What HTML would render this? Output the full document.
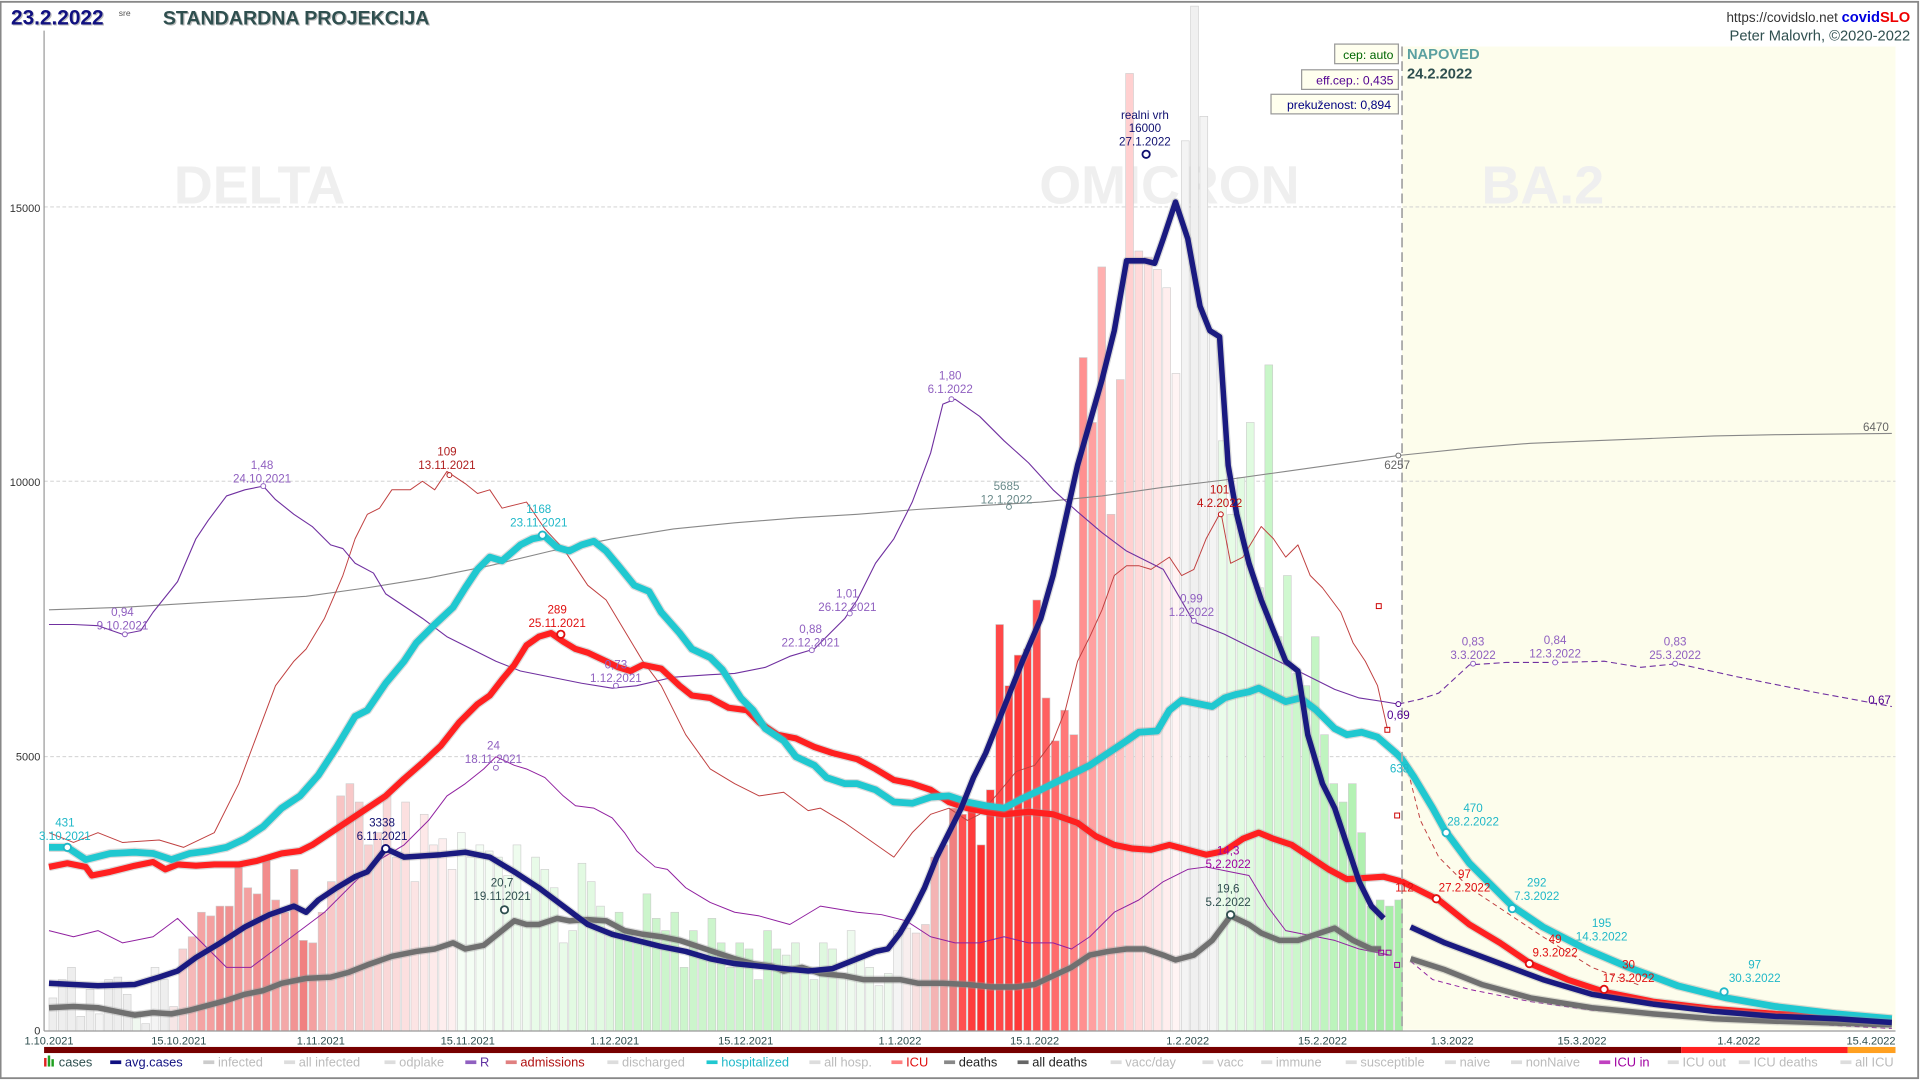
<!DOCTYPE html>
<html><head><meta charset="utf-8"><style>
html,body{margin:0;padding:0;background:#fff;}
svg{display:block;font-family:"Liberation Sans",sans-serif;}
</style></head><body>
<svg id="s" width="1920" height="1080" viewBox="0 0 1568 882" xmlns="http://www.w3.org/2000/svg">
<rect x="0" y="0" width="1568" height="882" fill="#fff"/>
<rect x="0.5" y="1.5" width="1566" height="879" fill="none" stroke="#888" stroke-width="1.5"/>
<rect x="1145" y="38" width="403" height="803" fill="#fdfdec"/>
<g stroke="#ccc" stroke-dasharray="3,2" stroke-width="0.7">
<line x1="36" y1="169" x2="1548" y2="169"/><line x1="36" y1="393" x2="1548" y2="393"/><line x1="36" y1="618" x2="1548" y2="618"/>
</g>
<g font-weight="bold" font-size="44" fill="#efefef" text-anchor="middle">
<text x="212" y="166">DELTA</text><text x="955" y="166">OMICRON</text><text x="1260" y="166">BA.2</text>
</g>
<g id="bars"></g>
<g id="lines"></g>
<line x1="1145" y1="38" x2="1145" y2="842" stroke="#aaa" stroke-width="1.5" stroke-dasharray="8,4"/>
<line x1="36" y1="25" x2="36" y2="842" stroke="#999"/>
<line x1="36" y1="842" x2="1548" y2="842" stroke="#999"/>
<g font-size="9" fill="#333" text-anchor="end">
<text x="33" y="173">15000</text><text x="33" y="397">10000</text><text x="33" y="621">5000</text><text x="33" y="845">0</text>
</g>
<g font-size="9" fill="#2f4f4f" text-anchor="middle">
<text x="40" y="853">1.10.2021</text><text x="146" y="853">15.10.2021</text><text x="262" y="853">1.11.2021</text><text x="382" y="853">15.11.2021</text><text x="502" y="853">1.12.2021</text><text x="609" y="853">15.12.2021</text><text x="735" y="853">1.1.2022</text><text x="845" y="853">15.1.2022</text><text x="970" y="853">1.2.2022</text><text x="1080" y="853">15.2.2022</text><text x="1186" y="853">1.3.2022</text><text x="1292" y="853">15.3.2022</text><text x="1420" y="853">1.4.2022</text><text x="1528" y="853">15.4.2022</text>
</g>
<rect x="36" y="855" width="1337" height="5" fill="#700"/>
<rect x="1373" y="855" width="136" height="5" fill="#ff2020"/>
<rect x="1509" y="855" width="39" height="5" fill="#ffa020"/>
<g id="legend" font-size="10.5"></g>
<text x="10" y="21" font-size="17" font-weight="bold" fill="#bbb">23.2.2022</text>
<text x="9" y="20" font-size="17" font-weight="bold" fill="#101080">23.2.2022</text>
<text x="97" y="13" font-size="7" fill="#555">sre</text>
<text x="134" y="21" font-size="16" font-weight="bold" fill="#bbb">STANDARDNA PROJEKCIJA</text>
<text x="133" y="20" font-size="16" font-weight="bold" fill="#2f4f4f">STANDARDNA PROJEKCIJA</text>
<text x="1560" y="18" font-size="11" text-anchor="end" fill="#333">https://covidslo.net <tspan font-weight="bold" fill="#0000e0" font-size="12">covid</tspan><tspan font-weight="bold" fill="#e00" font-size="12">SLO</tspan></text>
<text x="1560" y="33" font-size="12" text-anchor="end" fill="#2f4f4f">Peter Malovrh, ©2020-2022</text>
<g font-size="10" text-anchor="end">
<rect x="1090" y="36" width="52" height="16" fill="#ffffee" stroke="#999"/><text x="1138" y="48" fill="#060">cep: auto</text>
<rect x="1063" y="57" width="79" height="16" fill="#ffffee" stroke="#999"/><text x="1138" y="69" fill="#500090">eff.cep.: 0,435</text>
<rect x="1038" y="77" width="104" height="16" fill="#ffffee" stroke="#999"/><text x="1136" y="89" fill="#000080">prekuženost: 0,894</text>
</g>
<text x="1149" y="48" font-size="12" font-weight="bold" fill="#5aa0a0">NAPOVED</text>
<text x="1149" y="64" font-size="12" font-weight="bold" fill="#2f4f4f">24.2.2022</text>
<g id="ann" font-size="9.5" text-anchor="middle"></g>
</svg>
<script>
var NS="http://www.w3.org/2000/svg";
function el(p,t,a,txt){var e=document.createElementNS(NS,t);for(var k in a)e.setAttribute(k,a[k]);if(txt!=null)e.textContent=txt;p.appendChild(e);return e;}
var bars=document.getElementById('bars');
var B=[
[815,'#eee'],[800,'#eee'],[790,'#eee'],[830,'#eee'],[808,'#eee'],[828,'#f4f4f4'],[800,'#eee'],[798,'#eee'],[812,'#eee'],[826,'#f0f8f0'],[836,'#eee'],[790,'#f4f4f4'],[800,'#eee'],[822,'#f6e6e6'],
[775,'#f8d0d0'],[765,'#f6b8b8'],[745,'#f4a4a4'],[748,'#f4a0a0'],[740,'#f29090'],[740,'#f09090'],[705,'#f29898'],[725,'#f4a0a0'],[730,'#f29090'],[700,'#f28c8c'],[735,'#f4a0a0'],[745,'#f4a8a8'],[710,'#f29494'],[768,'#f08080'],[770,'#f4a0a0'],[745,'#f6b8b8'],[720,'#f8c8c8'],
[650,'#f8c4c4'],[640,'#f8c8c8'],[655,'#f8cccc'],[690,'#f8d0d0'],[680,'#fad4d4'],[650,'#fad8d8'],[700,'#fcdcdc'],[655,'#fce0e0'],[720,'#fce4e4'],[665,'#fde8e8'],[690,'#fdeaea'],[685,'#fdeeee'],[710,'#fdf0f0']
];
var g1=[680,700,690,695,700,715,690,730,700,710,725,770,760,705,720,740,760];
g1.forEach(function(v,i){var c=['#f4fdf4','#eefcee','#e8fbe8','#e2fae2','#dcf8dc'][Math.min(4,Math.floor(i/4))];B.push([v,c]);});
var g2=[745,760,770,730,750,760,745,790,760,780,750,770,790,770,775,800,760,775,780,770,790,800,770,775,795,760,780,790,805,795];
g2.forEach(function(v,i){var c=i<18?'#ccf5cc':(i<24?'#dff8df':'#eefaee');B.push([v,c]);});
[[760,'#f4f4f4'],[758,'#f8eeee'],[762,'#f8e0e0'],[755,'#f6d0d0'],[700,'#f4b4b4'],[690,'#f4a0a0'],[660,'#f08080'],
[665,'#ff5050'],[660,'#ff3c3c'],[690,'#ff3030'],[645,'#ff3a3a'],[510,'#ff4848'],[560,'#ff4040'],[535,'#ff3838'],[530,'#ff4444'],[490,'#ff5050'],[570,'#ff6060'],[605,'#ff6c6c'],[580,'#ff7878'],[600,'#ff8080'],[292,'#ff9090'],
[345,'#ffa0a0'],[218,'#ffb0b0'],[420,'#ffb8b8'],[310,'#ffc0c0'],[60,'#ffd0d0'],[205,'#ffdada'],[210,'#ffe0e0'],[220,'#ffe6e6'],[235,'#ffeeee'],
[305,'#fff4f4'],[115,'#f4f4f4'],[5,'#f0f0f0'],[95,'#f4f4f4'],[270,'#f4f4f4'],[360,'#eafcea'],[420,'#e6fce6'],[390,'#e2fbe2'],[345,'#e0fbe0'],[480,'#dcfadc'],[298,'#c8f6c8'],[520,'#d4f8d4'],[470,'#d0f8d0'],[550,'#ccf6cc'],[560,'#c8f6c8'],[520,'#c4f5c4'],[600,'#c0f4c0'],[640,'#bcf4bc'],[655,'#b8f2b8'],[640,'#b4f2b4'],[680,'#b0f0b0'],[740,'#acf0ac'],[735,'#a8eea8'],[740,'#a8eea8'],[735,'#a8eea8']
].forEach(function(b){B.push(b);});
B.forEach(function(b,i){var x=40+7.58*i;el(bars,'rect',{x:x,y:b[0],width:6.4,height:842-b[0],fill:b[1],stroke:'#ccc','stroke-width':0.5});});
var L=document.getElementById('lines');
function line(pts,col,w,dash,op){var a={points:pts,fill:'none',stroke:col,'stroke-width':w,'stroke-linejoin':'round'};if(dash)a['stroke-dasharray']=dash;if(op)a['stroke-opacity']=op;el(L,'polyline',a);}
function thick(pts,col,w){line(pts,'#999',w+2,null,0.35);line(pts,col,w);}
line("40,498 100,496 150,493 200,490 250,487 300,480 350,472 400,462 450,450 500,440 550,432 600,427 650,423 700,420 750,416 800,413 850,410 900,405 950,398 1000,392 1050,385 1100,378 1142,372 1200,366 1250,362 1300,360 1350,358 1400,356 1450,355 1545,354",'#888',0.9);
line("40,680 60,688 80,680 100,688 130,686 150,692 175,680 195,640 210,600 225,560 240,540 250,530 265,505 280,470 290,440 300,420 310,415 320,400 335,400 345,393 355,400 365,385 380,395 390,403 400,400 410,415 430,410 445,432 460,448 470,463 480,478 495,490 510,515 525,540 540,560 560,600 580,628 600,640 620,650 640,647 660,662 670,660 690,672 710,686 730,700 745,680 760,665 775,660 790,670 800,665 815,648 830,630 845,625 860,605 870,580 880,540 890,520 900,498 910,470 920,462 930,462 940,465 955,455 965,470 975,465 985,440 997,418 1005,460 1015,455 1030,430 1040,440 1050,455 1060,445 1070,470 1080,480 1095,500 1105,525 1115,540 1125,560 1133,595",'#c04040',0.8);
line("1150,630 1160,670 1175,700 1200,725 1230,745 1260,765 1300,790 1340,805",'#c04040',0.8,'4,3');
line("40,510 60,510 80,511 100,518 115,515 125,500 145,475 160,440 170,425 185,405 200,400 215,397 225,408 240,420 255,430 270,445 280,448 290,460 305,468 315,485 330,495 345,505 365,520 385,530 405,540 425,548 450,553 475,558 500,562 520,560 550,553 580,551 600,550 625,545 645,536 665,530 690,505 700,490 715,460 730,440 745,410 760,370 770,330 780,326 800,340 820,360 840,378 860,400 880,418 900,435 920,450 950,465 975,508 1000,518 1030,533 1060,548 1090,563 1110,570 1130,573 1142,575",'#7030a0',0.9);
line("1142,575 1160,571 1175,566 1200,543 1230,541 1270,541 1310,540 1340,545 1370,542 1420,553 1480,565 1545,577",'#7030a0',0.9,'5,3');
line("40,760 60,765 80,760 100,770 125,765 145,750 165,770 185,790 205,790 225,775 245,760 265,745 285,725 305,705 330,690 350,670 365,650 380,640 395,628 405,618 420,625 430,628 445,635 460,650 470,658 485,660 500,668 510,680 520,695 535,708 545,710 560,725 580,737 600,745 620,748 645,755 670,740 700,745 720,747 740,752 760,765 780,770 800,770 820,765 840,770 860,770 875,775 890,765 910,745 930,735 950,720 970,710 985,708 1005,712 1020,715 1035,740 1050,760 1070,764 1090,768 1110,775 1125,778 1135,780",'#9020a0',0.8);
line("1152,785 1170,800 1200,808 1250,818 1300,825 1400,832 1545,840",'#9020a0',0.8,'4,3');
var D="40,823 60,822 80,823 95,826 110,829 125,827 140,828 155,825 170,821 185,817 200,812 215,809 230,803 250,799 270,798 285,794 300,788 320,781 340,777 355,775 370,770 380,775 395,772 410,760 420,752 430,755 440,755 455,750 465,752 480,751 495,752 510,760 525,763 540,765 555,768 570,773 585,778 600,783 615,787 630,789 640,793 655,790 670,795 690,797 705,800 720,800 735,800 750,803 770,803 790,804 810,806 830,806 845,804 860,797 875,790 890,780 905,777 920,775 935,775 950,780 960,784 975,780 990,768 1005,748 1020,755 1030,762 1045,768 1060,768 1075,763 1090,758 1105,768 1120,775 1128,775";
thick(D,'#707070',4.5);
thick("1152,783 1180,792 1210,804 1250,815 1300,823 1350,828 1400,832 1450,834 1545,837",'#707070',4.5);
thick("40,708 55,705 70,708 75,715 90,712 110,707 125,704 135,710 145,706 160,707 175,706 195,706 210,703 230,697 245,695 255,690 270,680 285,670 300,660 315,650 330,636 345,623 360,609 375,590 390,575 400,568 410,555 420,543 430,527 440,520 450,517 460,524 470,530 480,533 495,540 505,545 515,548 525,543 540,546 555,560 565,568 580,570 595,578 610,580 620,590 635,600 650,603 665,610 680,615 700,620 715,628 730,637 745,640 760,645 775,655 790,660 805,663 820,665 840,663 860,665 880,672 895,683 910,690 925,693 940,694 955,690 970,694 985,698 1000,695 1015,685 1028,680 1040,685 1055,690 1070,700 1085,710 1100,718 1115,717 1130,716 1145,720 1155,725 1175,735 1200,755 1225,770 1250,787 1280,800 1310,810 1350,818 1400,824 1450,828 1500,830 1545,833",'#ff2020',5);
thick("40,692 55,692 70,702 90,697 110,696 125,697 140,702 155,697 170,695 185,692 200,685 215,675 230,660 245,650 260,633 275,610 290,585 300,580 315,558 330,540 340,525 355,510 370,496 380,480 390,465 400,455 410,458 425,445 435,440 445,438 455,447 465,450 475,445 485,442 495,450 505,462 518,478 530,483 540,500 555,517 565,530 580,537 590,547 605,570 615,580 625,595 640,605 650,618 665,625 675,635 690,640 700,640 715,645 730,655 745,656 760,651 775,650 790,655 805,658 820,660 835,652 850,645 870,635 890,625 905,615 920,605 930,598 945,597 955,580 965,572 980,575 990,577 1000,570 1010,567 1020,565 1028,562 1040,568 1050,573 1062,570 1075,580 1090,595 1100,600 1112,598 1125,602 1140,615 1145,620 1155,635 1170,660 1180,678 1200,705 1235,740 1260,757 1295,775 1330,790 1370,805 1410,815 1450,822 1500,828 1545,832",'#20c8d0',5.5);
thick("40,803 80,805 110,804 130,798 145,793 160,782 180,770 200,757 220,747 240,740 250,745 260,735 275,725 290,716 300,712 315,693 330,700 360,698 380,696 400,700 420,712 440,725 460,740 480,755 500,763 520,768 540,773 560,777 580,783 600,787 620,789 640,791 660,793 680,791 700,783 715,777 725,775 735,762 745,745 755,725 765,700 775,680 785,660 795,635 805,615 815,590 825,565 835,540 850,505 860,470 870,425 880,380 890,345 900,310 910,270 920,213 935,213 943,215 950,195 960,165 970,195 980,250 988,270 996,275 1003,380 1010,420 1020,460 1030,490 1040,515 1050,540 1060,548 1068,600 1080,640 1090,660 1100,690 1110,720 1120,740 1130,750",'#1a1a80',4.5);
thick("1152,757 1180,770 1220,785 1260,800 1300,812 1350,820 1400,826 1450,830 1500,832 1545,835",'#1a1a80',4.5);
[[1126,495],[1133,596],[1141,666]].forEach(function(p){el(L,'rect',{x:p[0]-2,y:p[1]-2,width:4,height:4,fill:'none',stroke:'#c00','stroke-width':0.8});});
[[1128,778],[1134,778],[1141,788]].forEach(function(p){el(L,'rect',{x:p[0]-2,y:p[1]-2,width:4,height:4,fill:'none',stroke:'#909','stroke-width':0.8});});
var A=document.getElementById('ann');
function an(x,y,c,lines,cx,cy,r){lines.forEach(function(t,i){el(A,'text',{x:x,y:y+i*11,fill:c},t);});if(cx!=null)el(A,'circle',{cx:cx,cy:cy,r:r||2,fill:'#fff',stroke:c,'stroke-width':r&&r>2?1.5:0.8});}
var P='#9060c0';
an(53,675,'#20b8c8',['431','3.10.2021'],55,692,3);
an(100,503,P,['0,94','9.10.2021'],102,518);
an(214,383,P,['1,48','24.10.2021'],215,397);
an(365,372,'#b02020',['109','13.11.2021'],367,388);
an(440,419,'#20b8c8',['1168','23.11.2021'],443,437,3);
an(455,501,'#e01010',['289','25.11.2021'],458,518,3);
an(503,546,P,['0,73','1.12.2021'],503,560);
an(403,612,P,['24','18.11.2021'],405,627);
an(312,675,'#101070',['3338','6.11.2021'],315,693,3);
an(410,724,'#2f4f4f',['20,7','19.11.2021'],412,743,3);
an(662,517,P,['0,88','22.12.2021'],663,531);
an(692,488,P,['1,01','26.12.2021'],694,501);
an(776,310,P,['1,80','6.1.2022'],777,326);
an(822,400,'#6a8a8a',['5685','12.1.2022'],824,414);
an(935,97,'#101070',['realni vrh','16000','27.1.2022'],936,126,3);
an(996,403,'#c01010',['101','4.2.2022'],997,420);
an(973,492,P,['0,99','1.2.2022'],975,507);
an(1003,698,'#a000a0',['14,3','5.2.2022']);
an(1003,729,'#2f4f4f',['19,6','5.2.2022'],1005,747,3);
an(1141,383,'#666',['6257'],1142,372);
an(1532,352,'#666',['6470']);
an(1142,587,'#500090',['0,69'],1142,575);
an(1143,631,'#20b8c8',['638']);
an(1147,728,'#e01010',['112']);
an(1203,663,'#20b8c8',['470','28.2.2022'],1181,680,3);
an(1196,717,'#e01010',['97','27.2.2022'],1173,734,3);
an(1255,724,'#20b8c8',['292','7.3.2022'],1235,742,3);
an(1270,770,'#e01010',['49','9.3.2022'],1249,787,3);
an(1308,757,'#20b8c8',['195','14.3.2022']);
an(1330,791,'#e01010',['30','17.3.2022'],1310,808,3);
an(1433,791,'#20b8c8',['97','30.3.2022'],1408,810,3);
an(1203,527,P,['0,83','3.3.2022'],1203,542);
an(1270,526,P,['0,84','12.3.2022'],1270,541);
an(1368,527,P,['0,83','25.3.2022'],1368,542);
an(1535,575,'#500090',['0,67']);
var G=document.getElementById('legend');
var items=[[36,'cases','#2f4f4f','bars'],[90,'avg.cases','#101080','#101080'],[166,'infected','#bbb','#ccc'],[232,'all infected','#bbb','#ddd'],[314,'odplake','#bbb','#ddd'],[380,'R','#6030a0','#9060c0'],[413,'admissions','#b01010','#e08080'],[496,'discharged','#bbb','#ddd'],[577,'hospitalized','#20b8c8','#20c8d0'],[661,'all hosp.','#bbb','#ddd'],[728,'ICU','#e01010','#ff8080'],[771,'deaths','#222','#888'],[831,'all deaths','#222','#666'],[907,'vacc/day','#bbb','#ddd'],[982,'vacc','#bbb','#ddd'],[1030,'immune','#bbb','#ddd'],[1099,'susceptible','#bbb','#ddd'],[1180,'naive','#bbb','#ddd'],[1234,'nonNaive','#bbb','#ddd'],[1306,'ICU in','#a000a0','#c040c0'],[1362,'ICU out','#bbb','#ddd'],[1420,'ICU deaths','#bbb','#ddd'],[1503,'all ICU','#bbb','#ddd']];
items.forEach(function(it){var x=it[0];if(it[3]=='bars'){el(G,'rect',{x:x,y:864,width:2,height:7,fill:'#e02020'});el(G,'rect',{x:x+3,y:862,width:2,height:9,fill:'#20a020'});el(G,'rect',{x:x+6,y:865,width:2,height:6,fill:'#20a020'});}else{el(G,'rect',{x:x,y:866,width:9,height:3,fill:it[3]});}el(G,'text',{x:x+12,y:871,fill:it[2]},it[1]);});
</script>
</body></html>
